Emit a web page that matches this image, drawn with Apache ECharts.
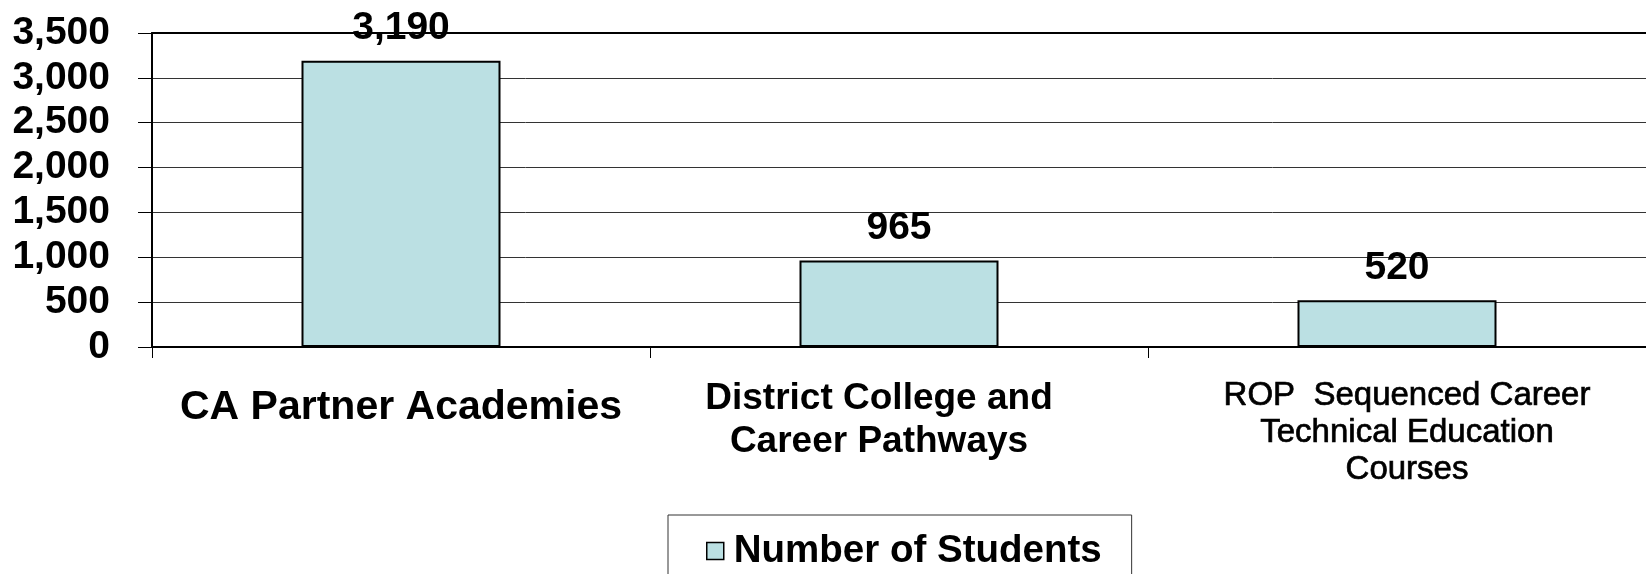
<!DOCTYPE html>
<html>
<head>
<meta charset="utf-8">
<title>Number of Students</title>
<script src="https://cdn.jsdelivr.net/npm/echarts@6/dist/echarts.min.js"></script>
<style>
  html, body { margin: 0; padding: 0; background: #fff; }
  #chart { width: 1646px; height: 574px; }
</style>
</head>
<body>
<div id="chart"></div>
<script>
// Program categories (line breaks as shown under each bar)
const categories = [
  'CA Partner Academies',
  'District College and\nCareer Pathways',
  'ROP  Sequenced Career\nTechnical Education\nCourses'
];
// Number of students per program
const students = [3190, 965, 520];
const seriesName = 'Number of Students';
// Value axis range
const yMin = 0;
const yMax = 3500;
const yStep = 500;

// Each category label has its own text style
const labelStyleKeys = ['a', 'b', 'c'];

const FONT = '"Liberation Sans", Arial, sans-serif';
const fmt = v => Number(v).toLocaleString('en-US');

const chart = echarts.init(document.getElementById('chart'), null, { renderer: 'canvas' });

chart.setOption({
  animation: false,
  backgroundColor: '#ffffff',
  textStyle: { fontFamily: FONT, color: '#000' },
  grid: { left: 152, right: 0, top: 33, bottom: 227 },
  legend: {
    data: [seriesName],
    left: 668,
    top: 515,
    padding: [16, 30, 30, 38],
    borderColor: '#333',
    borderWidth: 1,
    itemWidth: 17,
    itemHeight: 17,
    icon: 'rect',
    itemStyle: { color: '#BBE0E3', borderColor: '#000', borderWidth: 1.5 },
    textStyle: {
      fontFamily: FONT,
      fontSize: 38.5,
      fontWeight: 'bold',
      color: '#000',
      lineHeight: 40,
      padding: [0, 0, 0, 5]
    }
  },
  xAxis: [
    {
      type: 'category',
      data: categories,
      position: 'bottom',
      boundaryGap: true,
      axisLine: { show: true, lineStyle: { color: '#000', width: 2 } },
      axisTick: { show: true, length: 11, lineStyle: { color: '#000', width: 1 } },
      axisLabel: {
        interval: 0,
        margin: 30,
        color: '#000',
        formatter: (value, index) => {
          const key = labelStyleKeys[index];
          return value.split('\n').map(line => '{' + key + '|' + line + '}').join('\n');
        },
        rich: {
          a: { fontFamily: FONT, fontSize: 41, fontWeight: 'bold', lineHeight: 61, color: '#000' },
          b: { fontFamily: FONT, fontSize: 37, fontWeight: 'bold', lineHeight: 43, color: '#000', padding: [0, 40, 0, 0] },
          c: {
            fontFamily: FONT, fontSize: 33, fontWeight: 'normal', lineHeight: 37, color: '#000',
            textBorderColor: '#000', textBorderWidth: 0.7, padding: [0, 0, 0, 20]
          }
        }
      }
    },
    {
      // plain line along the top of the plot area
      type: 'category',
      data: categories,
      position: 'top',
      axisLine: { show: true, lineStyle: { color: '#000', width: 2 } },
      axisTick: { show: false },
      axisLabel: { show: false },
      splitLine: { show: false }
    }
  ],
  yAxis: {
    type: 'value',
    min: yMin,
    max: yMax,
    interval: yStep,
    axisLine: { show: true, lineStyle: { color: '#000', width: 2 } },
    axisTick: { show: true, length: 14, lineStyle: { color: '#000', width: 1 } },
    axisLabel: {
      margin: 42,
      fontFamily: FONT,
      fontSize: 39,
      fontWeight: 'bold',
      color: '#000',
      formatter: v => fmt(v)
    },
    splitLine: { show: true, lineStyle: { color: '#333', width: 1 } }
  },
  series: [
    {
      name: seriesName,
      type: 'bar',
      xAxisIndex: 0,
      data: students,
      barWidth: 199,
      itemStyle: { color: '#BBE0E3', borderColor: '#000', borderWidth: 2 },
      label: {
        show: true,
        position: 'top',
        distance: 13,
        fontFamily: FONT,
        fontSize: 39,
        fontWeight: 'bold',
        color: '#000',
        formatter: p => fmt(p.value)
      }
    }
  ]
});
</script>
</body>
</html>
